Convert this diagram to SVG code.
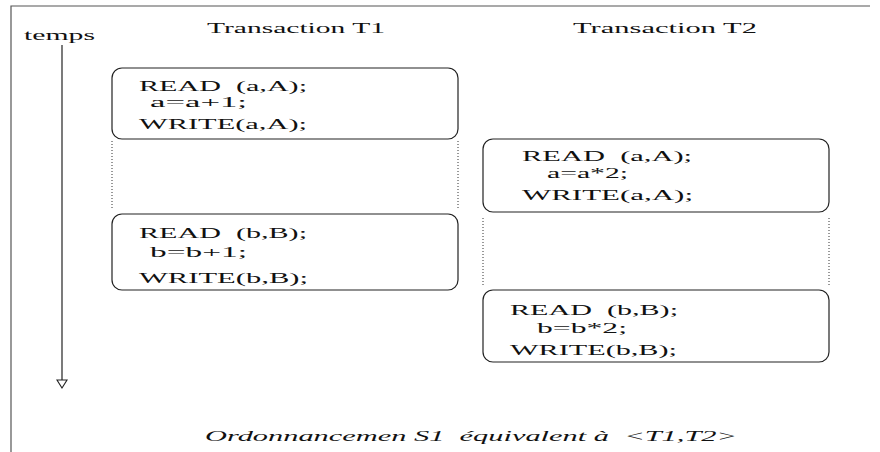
<svg xmlns="http://www.w3.org/2000/svg" width="880" height="452" viewBox="0 0 880 452">
  <style>
    text { font-family: "Liberation Serif", "DejaVu Serif", "Times New Roman", serif; font-size: 15px; fill: #111; white-space: pre; }
    .cap { font-style: italic; }
    .box { fill: none; stroke: #222; stroke-width: 1.2; }
    .dots { fill: none; stroke: #333; stroke-width: 1; stroke-dasharray: 1 2; }
    .frame { fill: none; stroke: #555; stroke-width: 1.2; }
    .axis { fill: none; stroke: #222; stroke-width: 1.2; }
  </style>
  <rect width="880" height="452" fill="#fff"/>

  <!-- page frame -->
  <path class="frame" d="M11,452 L11,6 L870,6"/>

  <!-- headers -->
  <text x="24" y="40" textLength="71" lengthAdjust="spacingAndGlyphs">temps</text>
  <text x="207" y="33" textLength="178" lengthAdjust="spacingAndGlyphs">Transaction T1</text>
  <text x="573" y="33" textLength="184" lengthAdjust="spacingAndGlyphs">Transaction T2</text>

  <!-- connectors: time axis and dotted separators -->
  <g id="connectors">
    <line class="axis" x1="62" y1="45" x2="62" y2="380"/>
    <path d="M57,380 L67,380 L62,388 Z" fill="#fff" stroke="#222" stroke-width="1.1"/>
    <line class="dots" x1="112" y1="141" x2="112" y2="210"/>
    <line class="dots" x1="458" y1="141" x2="458" y2="210"/>
    <line class="dots" x1="483" y1="218" x2="483" y2="287"/>
    <line class="dots" x1="829" y1="218" x2="829" y2="287"/>
  </g>

  <!-- T1, first block -->
  <g id="t1-a">
    <rect class="box" x="112" y="68" width="346" height="71" rx="10"/>
    <text x="139" y="91" textLength="168" lengthAdjust="spacingAndGlyphs" xml:space="preserve">READ  (a,A);</text>
    <text x="150" y="107" textLength="97" lengthAdjust="spacingAndGlyphs">a=a+1;</text>
    <text x="139" y="129" textLength="168" lengthAdjust="spacingAndGlyphs">WRITE(a,A);</text>
  </g>

  <!-- T1, second block -->
  <g id="t1-b">
    <rect class="box" x="112" y="214" width="346" height="76" rx="10"/>
    <text x="139" y="238" textLength="168" lengthAdjust="spacingAndGlyphs" xml:space="preserve">READ  (b,B);</text>
    <text x="150" y="257" textLength="97" lengthAdjust="spacingAndGlyphs">b=b+1;</text>
    <text x="139" y="283" textLength="169" lengthAdjust="spacingAndGlyphs">WRITE(b,B);</text>
  </g>

  <!-- T2, first block -->
  <g id="t2-a">
    <rect class="box" x="483" y="139" width="346" height="73" rx="10"/>
    <text x="522" y="161" textLength="170" lengthAdjust="spacingAndGlyphs" xml:space="preserve">READ  (a,A);</text>
    <text x="547" y="178" textLength="81" lengthAdjust="spacingAndGlyphs">a=a*2;</text>
    <text x="522" y="200" textLength="171" lengthAdjust="spacingAndGlyphs">WRITE(a,A);</text>
  </g>

  <!-- T2, second block -->
  <g id="t2-b">
    <rect class="box" x="483" y="290" width="346" height="72" rx="10"/>
    <text x="510" y="315" textLength="168" lengthAdjust="spacingAndGlyphs" xml:space="preserve">READ  (b,B);</text>
    <text x="537" y="333" textLength="90" lengthAdjust="spacingAndGlyphs">b=b*2;</text>
    <text x="510" y="355" textLength="167" lengthAdjust="spacingAndGlyphs">WRITE(b,B);</text>
  </g>

  <!-- caption -->
  <text class="cap" x="205" y="441" textLength="532" lengthAdjust="spacingAndGlyphs" xml:space="preserve">Ordonnancemen S1  équivalent à  &lt;T1,T2&gt;</text>
</svg>
